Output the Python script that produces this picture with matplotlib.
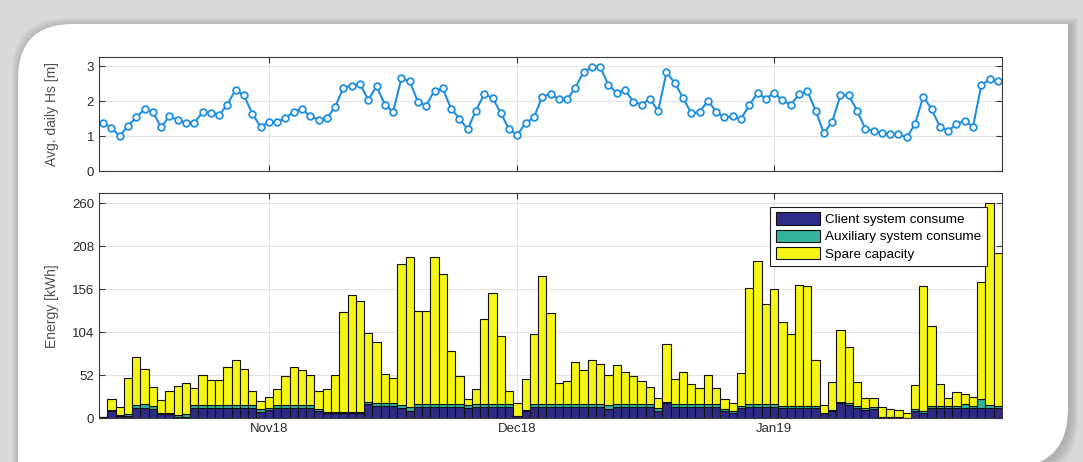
import numpy as np
import pandas as pd
import matplotlib
matplotlib.use('Agg')
import matplotlib.pyplot as plt
import matplotlib.dates as mdates
from matplotlib.path import Path
from matplotlib.patches import PathPatch

plt.rcParams['font.family'] = ['Liberation Sans', 'DejaVu Sans']

# daily series, starting 12 Oct 2018
start_day = '2018-10-12'

hs = [1.37, 1.24, 0.99, 1.30, 1.53, 1.77, 1.68, 1.25, 1.57, 1.46,
      1.38, 1.38, 1.68, 1.66, 1.60, 1.90, 2.33, 2.16, 1.64, 1.27,
      1.39, 1.41, 1.51, 1.70, 1.77, 1.57, 1.47, 1.51, 1.83, 2.38,
      2.44, 2.49, 2.04, 2.42, 1.90, 1.69, 2.65, 2.56, 1.98, 1.87,
      2.30, 2.36, 1.78, 1.50, 1.19, 1.73, 2.20, 2.09, 1.66, 1.19,
      1.03, 1.38, 1.53, 2.13, 2.20, 2.05, 2.05, 2.38, 2.84, 2.97,
      2.97, 2.46, 2.23, 2.31, 1.98, 1.90, 2.06, 1.72, 2.82, 2.52,
      2.09, 1.65, 1.69, 2.01, 1.70, 1.53, 1.56, 1.49, 1.89, 2.23,
      2.07, 2.23, 2.02, 1.90, 2.19, 2.29, 1.73, 1.08, 1.41, 2.17,
      2.16, 1.73, 1.21, 1.14, 1.08, 1.05, 1.05, 0.96, 1.34, 2.13,
      1.77, 1.27, 1.14, 1.34, 1.43, 1.27, 2.45, 2.62, 2.57]

# total energy available per day [kWh]
capacity = [2, 23, 14, 49, 74, 60, 38, 22, 33, 39,
            43, 37, 52, 46, 46, 62, 70, 60, 33, 21,
            26, 35, 51, 62, 58, 52, 33, 36, 52, 128,
            149, 142, 103, 92, 54, 49, 186, 195, 130, 130,
            195, 174, 81, 51, 23, 35, 120, 152, 99, 33,
            18, 48, 102, 172, 127, 43, 45, 68, 58, 70,
            66, 52, 64, 56, 51, 45, 38, 24, 90, 48,
            56, 41, 37, 52, 37, 23, 18, 55, 157, 190,
            138, 156, 116, 102, 161, 160, 71, 16, 44, 107,
            86, 44, 24, 24, 14, 11, 10, 7, 40, 160,
            112, 41, 24, 32, 29, 26, 165, 260, 200]

client = [2, 9, 3, 3, 12, 13, 11, 5, 5, 2,
          2, 12, 12, 12, 12, 12, 12, 12, 12, 8,
          10, 12, 12, 12, 12, 12, 9, 6, 6, 6,
          6, 6, 17, 15, 15, 15, 12, 9, 14, 14,
          14, 14, 14, 14, 12, 14, 14, 14, 14, 14,
          3, 9, 14, 14, 14, 14, 14, 14, 14, 14,
          14, 11, 14, 14, 14, 14, 14, 9, 19, 14,
          14, 14, 14, 14, 14, 9, 6, 12, 14, 14,
          14, 14, 12, 12, 12, 12, 12, 6, 9, 19,
          16, 12, 10, 11, 2, 1, 1, 0.5, 9, 6,
          12, 12, 12, 12, 12, 12, 13, 13, 12]

auxiliary = [0, 1, 1, 2, 4, 4, 4, 1, 1, 1.5,
             3, 4, 4, 4, 4, 4, 4, 4, 4, 3,
             3, 4, 4, 4, 4, 4, 2, 2, 2, 2,
             2, 2, 3, 3.5, 3.5, 3.5, 4, 5, 3.5, 3.5,
             3.5, 3.5, 3.5, 3.5, 3.5, 3.5, 3.5, 3.5, 3.5, 3.5,
             0, 1, 3.5, 3.5, 3.5, 3.5, 3.5, 3.5, 3.5, 3.5,
             3.5, 4.5, 3.5, 3.5, 3.5, 3.5, 3.5, 3, 1, 3.5,
             3.5, 3.5, 3.5, 3.5, 3.5, 2.5, 2.5, 3, 3, 3,
             3, 3, 3, 3, 3, 3, 3, 0.5, 0.5, 1,
             2.5, 3, 2.5, 2.5, 0, 0, 0, 0, 2.5, 3,
             3, 3, 3, 3, 5, 3, 10, 3, 3]

month_ticks = ['2018-11-01', '2018-12-01', '2019-01-01']
month_labels = ['Nov18', 'Dec18', 'Jan19']

hs = np.array(hs)
client = np.array(client, dtype=float)
auxiliary = np.array(auxiliary, dtype=float)
spare = np.array(capacity, dtype=float) - client - auxiliary

days = mdates.date2num(pd.date_range(start_day, periods=len(hs), freq='D'))
xt = mdates.date2num(pd.to_datetime(month_ticks))

W, H = 1083, 462
fig = plt.figure(figsize=(W / 100, H / 100), dpi=100)
fig.patch.set_facecolor('#d9d9d9')


def card(grow=0.0, dx=0.0, dy=0.0):
    # white panel with rounded top-left and bottom-right corners (pixel coords, y down)
    l, t, r, b = 18 - grow + dx, 24 - grow + dy, 1068 + grow + dx, 468 + grow + dy
    rtl, rbr = 55, 60
    pts = [(l, b), (l, t + rtl), (l, t), (l + rtl, t), (r, t),
           (r, b - rbr), (r, b), (r - rbr, b), (l, b)]
    codes = [Path.MOVETO, Path.LINETO, Path.CURVE3, Path.CURVE3, Path.LINETO,
             Path.LINETO, Path.CURVE3, Path.CURVE3, Path.CLOSEPOLY]
    verts = [(x / W, 1 - y / H) for x, y in pts]
    return Path(verts, codes)


for k in range(8, 0, -1):
    fig.patches.append(PathPatch(card(k, 2, 2), transform=fig.transFigure, zorder=-10,
                                 facecolor='#707070', edgecolor='none', alpha=0.05))
fig.patches.append(PathPatch(card(), transform=fig.transFigure, zorder=-9,
                             facecolor='white', edgecolor='none'))

ax1 = fig.add_axes([99 / W, 1 - 171 / H, 903 / W, 114 / H])
ax2 = fig.add_axes([99 / W, 1 - 418.3 / H, 903 / W, 225 / H])

for ax in (ax1, ax2):
    ax.set_facecolor('white')
    for s in ax.spines.values():
        s.set_color('#3a3a3a')
        s.set_linewidth(0.8)
    ax.tick_params(direction='in', length=4, width=0.8, top=True, right=True,
                   colors='#3a3a3a', labelcolor='#2b2b2b', labelsize=9.5)
    ax.grid(True, color='#e2e2e2', linewidth=0.8)
    ax.set_axisbelow(True)
    ax.set_xlim(days[0] - 0.5, days[-1] + 0.5)
    ax.set_xticks(xt)

# wave height
ax1.plot(days, hs, '-o', color='#1f8fe0', lw=1.5, ms=4.8,
         mfc='white', mec='#1f8fe0', mew=1.3)
ax1.set_ylim(0, 3.26)
ax1.set_yticks([0, 1, 2, 3])
ax1.set_xticklabels([])
ax1.set_ylabel('Avg. daily Hs [m]', fontsize=10, color='#505050')
ax1.yaxis.set_label_coords(-0.044, 0.5)

# energy stack
b1 = ax2.bar(days, client, width=1.0, color='#2e2a86', edgecolor='#111111', lw=0.8,
             label='Client system consume')
b2 = ax2.bar(days, auxiliary, width=1.0, bottom=client, color='#34b49c',
             edgecolor='#111111', lw=0.8, label='Auxiliary system consume')
b3 = ax2.bar(days, spare, width=1.0, bottom=client + auxiliary, color='#f6f614',
             edgecolor='#111111', lw=0.8, label='Spare capacity')
ax2.set_ylim(0, 272)
ax2.set_yticks([0, 52, 104, 156, 208, 260])
ax2.set_xticklabels(month_labels)
ax2.set_ylabel('Energy [kWh]', fontsize=10, color='#505050')
ax2.yaxis.set_label_coords(-0.044, 0.5)

leg = ax2.legend(loc='upper right', bbox_to_anchor=(0.9834, 0.939), fontsize=9.7,
                 frameon=True, fancybox=False, framealpha=1, edgecolor='#222222',
                 borderpad=0.4, borderaxespad=0, handlelength=3.3, handleheight=1.05,
                 handletextpad=0.4, labelspacing=0.25)
leg.get_frame().set_linewidth(0.8)

fig.savefig('out.png', dpi=100, facecolor=fig.get_facecolor())
